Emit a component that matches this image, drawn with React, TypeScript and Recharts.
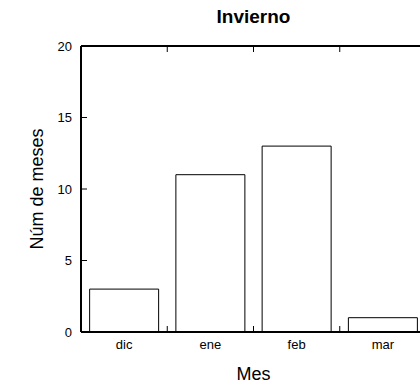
import React from 'react';
import { BarChart, Bar, XAxis, YAxis, ReferenceLine } from 'recharts';

// Winter months and how many times each one appears
const months = ['dic', 'ene', 'feb', 'mar'];
const counts = [3, 11, 13, 1];
const yTicks = [0, 5, 10, 15, 20];

const data = months.map((m, i) => ({ mes: m, n: counts[i] }));
// Band edges between neighbouring months get a small mark on the top and bottom frame
const innerEdges = months.slice(0, -1);

const FONT = '"Liberation Sans", Arial, Helvetica, sans-serif';
const MARK = 6; // length of the inward tick marks

// Draws only the two short inward marks at the ends of a vertical reference line
const EdgeMarks = (p: any) => {
  const top = Math.min(p.y1, p.y2);
  const bottom = Math.max(p.y1, p.y2);
  return (
    <g>
      <line x1={p.x1} x2={p.x1} y1={top} y2={top + MARK} stroke="#000" strokeWidth={1} />
      <line x1={p.x1} x2={p.x1} y1={bottom} y2={bottom - MARK} stroke="#000" strokeWidth={1} />
    </g>
  );
};

export default function App() {
  return (
    <div
      style={{
        position: 'fixed',
        left: 0,
        top: 0,
        width: 420,
        height: 388,
        overflow: 'hidden',
        background: '#fff',
        fontFamily: FONT,
      }}
    >
      <BarChart
        width={440}
        height={388}
        data={data}
        margin={{ top: 46, right: 14, bottom: 0, left: 0 }}
        barCategoryGap="10%"
        style={{ fontFamily: FONT }}
      >
        {/* top frame line and the title */}
        <XAxis
          xAxisId="edgeTop"
          dataKey="mes"
          orientation="top"
          mirror
          height={1}
          tickLine={false}
          tick={false}
          axisLine={{ stroke: '#000', strokeWidth: 2 }}
          label={{
            value: 'Invierno',
            position: 'top',
            offset: 23,
            style: { fontFamily: FONT, fontSize: 19, fontWeight: 'bold', fill: '#000' },
          }}
        />
        <XAxis
          dataKey="mes"
          height={56}
          interval={0}
          tickLine={false}
          tickSize={0}
          tickMargin={8}
          tick={{ fontSize: 13, fill: '#000', fontFamily: FONT }}
          axisLine={{ stroke: '#000', strokeWidth: 2 }}
          label={{
            value: 'Mes',
            position: 'insideBottom',
            offset: 8,
            style: { fontFamily: FONT, fontSize: 18, fill: '#000' },
          }}
        />
        <YAxis
          width={81}
          domain={[0, 20]}
          ticks={yTicks}
          interval={0}
          tickSize={-MARK}
          tickMargin={15}
          tick={{ fontSize: 13, fill: '#000', fontFamily: FONT }}
          tickLine={{ stroke: '#000', strokeWidth: 1 }}
          axisLine={{ stroke: '#000', strokeWidth: 2 }}
          label={{
            value: 'Núm de meses',
            angle: -90,
            position: 'insideLeft',
            offset: 37,
            style: { fontFamily: FONT, fontSize: 18, fill: '#000', textAnchor: 'middle' },
          }}
        />
        <Bar dataKey="n" fill="#fff" stroke="#000" strokeWidth={1} isAnimationActive={false} />
        {innerEdges.map((m) => (
          <ReferenceLine key={m} x={m} position="end" ifOverflow="visible" shape={EdgeMarks} />
        ))}
      </BarChart>
    </div>
  );
}
